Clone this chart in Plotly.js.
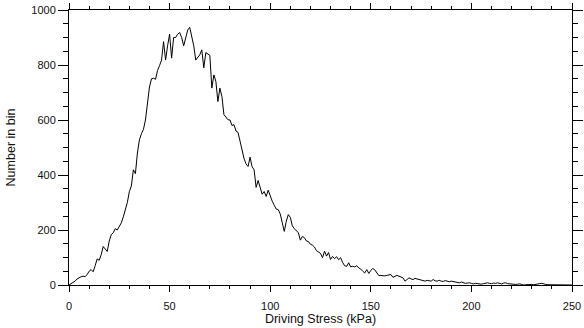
<!DOCTYPE html>
<html>
<head>
<meta charset="utf-8">
<script src="https://cdn.plot.ly/plotly-3.0.1.min.js"></script>
<style>
html,body{margin:0;padding:0;background:#fff;}
#chart{width:584px;height:328px;}
</style>
</head>
<body>
<div id="chart"></div>
<script>
// Bin centres (kPa), 1 kPa bins
var binStart = 0;
var binWidth = 1;
// Number in bin for each bin
var counts = [
  0, 5, 8, 14, 22, 27, 30, 32, 30, 38,
  50, 56, 48, 70, 95, 90, 110, 140, 130, 122,
  160, 183, 190, 205, 200, 212, 226, 248, 270, 300,
  340, 360, 419, 405, 480, 528, 550, 566, 600, 665,
  720, 750, 752, 748, 780, 798, 818, 885, 818, 870,
  912, 825, 900, 900, 912, 918, 900, 870, 900, 927,
  937, 900, 870, 818, 830, 837, 855, 790, 845, 840,
  835, 716, 764, 740, 667, 716, 685, 620, 608, 601,
  600, 580, 583, 560, 555, 520, 490, 460, 440, 431,
  465, 430, 419, 355, 380, 358, 330, 340, 322, 345,
  322, 305, 290, 276, 274, 258, 226, 195, 232, 256,
  246, 215, 205, 199, 190, 163, 177, 172, 160, 158,
  148, 145, 138, 125, 120, 115, 99, 123, 105, 118,
  93, 104, 96, 103, 92, 99, 82, 70, 68, 81,
  66, 68, 66, 70, 62, 58, 50, 44, 56, 42,
  53, 60, 55, 44, 34, 35, 34, 33, 35, 36,
  38, 28, 31, 35, 32, 29, 26, 14, 20, 26,
  22, 20, 24, 22, 20, 18, 16, 14, 17, 15,
  14, 20, 15, 14, 17, 14, 13, 16, 14, 12,
  14, 12, 12, 10, 8, 11, 9, 6, 7, 8,
  6, 4, 6, 5, 4, 3, 5, 6, 8, 6,
  5, 7, 6, 8, 5, 4, 7, 8, 5, 4,
  4, 3, 2, 3, 4, 2, 0, 1, 2, 1,
  2, 1, 3, 4, 5, 6, 3, 2, 1, 1,
  0, 2, 1, 0, 1, 0, 1, 0, 0, 0,
  0
];
var xTickVals = [0, 50, 100, 150, 200, 250];
var yTickVals = [0, 200, 400, 600, 800, 1000];
var xTitle = "Driving Stress (kPa)";
var yTitle = "Number in bin";

var trace = {
  type: "scatter",
  mode: "lines",
  x0: binStart,
  dx: binWidth,
  y: counts,
  line: {color: "#000", width: 1},
  hoverinfo: "skip"
};

var font = {family: "Liberation Sans, Arial, sans-serif", size: 11, color: "#111"};
var titleFont = {family: "Liberation Sans, Arial, sans-serif", size: 12.5, color: "#111"};

var layout = {
  width: 584,
  height: 328,
  margin: {l: 69, r: 12, t: 10, b: 43, pad: 0},
  paper_bgcolor: "#fff",
  plot_bgcolor: "#fff",
  showlegend: false,
  font: font,
  xaxis: {
    range: [0, 250],
    tickvals: xTickVals,
    ticktext: xTickVals.map(String),
    ticks: "outside",
    ticklen: 6,
    tickwidth: 1,
    tickcolor: "#000",
    ticklabelstandoff: 5,
    minor: {dtick: 10, tick0: 0, ticks: "outside", ticklen: 3, tickwidth: 1, tickcolor: "#000", showgrid: false},
    showline: true,
    linecolor: "#000",
    linewidth: 1,
    mirror: "ticks",
    showgrid: false,
    zeroline: false,
    tickfont: font,
    title: {text: xTitle, font: titleFont, standoff: 3}
  },
  yaxis: {
    range: [0, 1000],
    tickvals: yTickVals,
    ticktext: yTickVals.map(String),
    ticks: "outside",
    ticklen: 10,
    tickwidth: 1,
    tickcolor: "#000",
    minor: {dtick: 50, tick0: 0, ticks: "outside", ticklen: 5, tickwidth: 1, tickcolor: "#000", showgrid: false},
    showline: true,
    linecolor: "#000",
    linewidth: 1,
    mirror: "ticks",
    showgrid: false,
    zeroline: false,
    tickfont: font,
    title: {text: yTitle, font: titleFont, standoff: 12}
  }
};

Plotly.newPlot("chart", [trace], layout, {staticPlot: true, displayModeBar: false});
</script>
</body>
</html>
